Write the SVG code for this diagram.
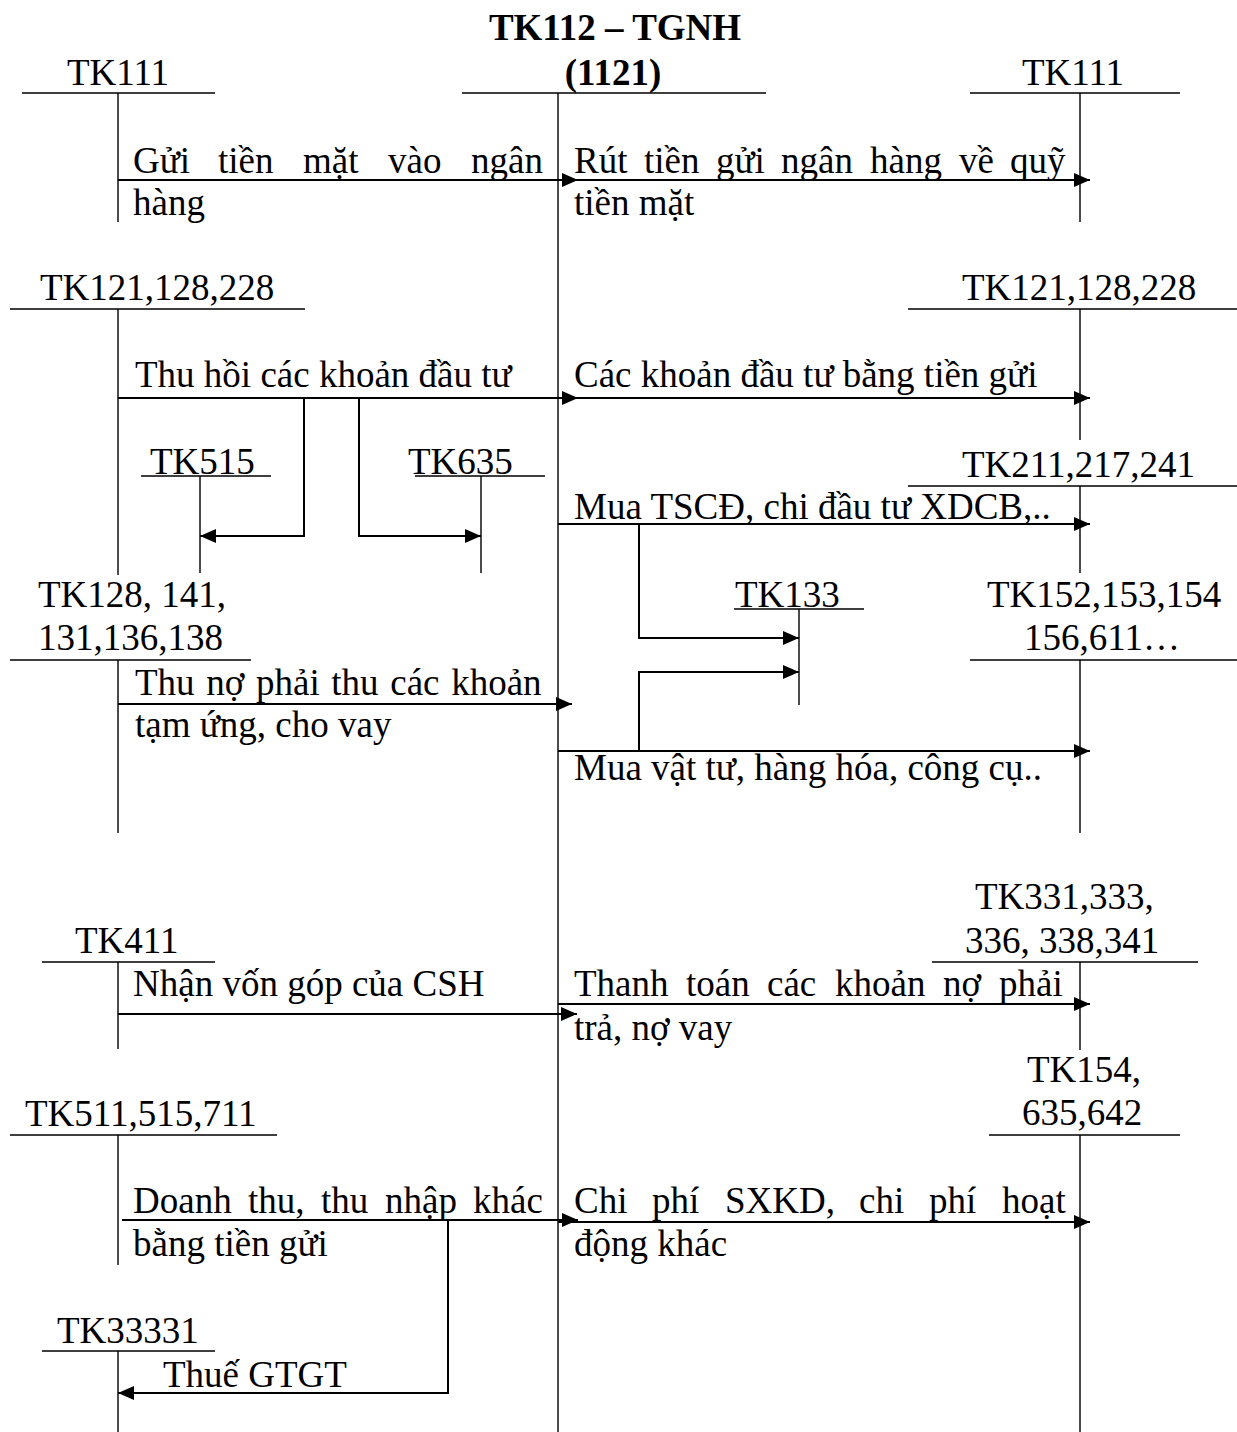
<svg xmlns="http://www.w3.org/2000/svg" width="1237" height="1432" viewBox="0 0 1237 1432">
<style>
text{font-family:"Liberation Serif","Times New Roman",serif;font-size:37px;fill:#000}
.b{font-weight:bold}
.t{stroke:#000;stroke-width:1.4;fill:none}
.a{stroke:#000;stroke-width:2;fill:none;marker-end:url(#ah)}
.l{stroke:#000;stroke-width:2;fill:none}
</style>
<defs>
<marker id="ah" viewBox="0 0 16 14" refX="16" refY="7" markerWidth="16" markerHeight="14" markerUnits="userSpaceOnUse" orient="auto"><path d="M0,0 L16,7 L0,14 z" fill="#000"/></marker>
</defs>
<rect width="1237" height="1432" fill="#fff"/>

<g id="tk112">
<text class="b" x="615" y="40" text-anchor="middle">TK112 – TGNH</text>
<text class="b" x="613" y="85" text-anchor="middle">(1121)</text>
<path class="t" d="M462,93 H766 M558,93 V1432"/>
</g>

<g id="tk111-left"><text x="67" y="85">TK111</text><path class="t" d="M22,93 H215 M118,93 V222"/></g>
<g id="tk111-right"><text x="1022" y="85">TK111</text><path class="t" d="M970,93 H1180 M1080,93 V222"/></g>
<g id="tk121-left"><text x="40" y="300">TK121,128,228</text><path class="t" d="M10,309 H305 M118,309 V575"/></g>
<g id="tk121-right"><text x="962" y="300">TK121,128,228</text><path class="t" d="M908,309 H1237 M1080,309 V440"/></g>
<g id="tk515"><text x="150" y="474">TK515</text><path class="t" d="M141,476 H271 M200,476 V573"/></g>
<g id="tk635"><text x="408" y="474">TK635</text><path class="t" d="M415,476 H545 M481,476 V573"/></g>
<g id="tk211-right"><text x="962" y="477">TK211,217,241</text><path class="t" d="M908,486 H1237 M1080,486 V573"/></g>
<g id="tk128-left"><text x="38" y="607">TK128, 141,</text><text x="38" y="650">131,136,138</text><path class="t" d="M10,660 H251 M118,660 V833"/></g>
<g id="tk133"><text x="735" y="607">TK133</text><path class="t" d="M734,609 H864 M799,609 V705"/></g>
<g id="tk152-right"><text x="987" y="607">TK152,153,154</text><text x="1024" y="650">156,611…</text><path class="t" d="M970,660 H1237 M1080,660 V833"/></g>
<g id="tk411"><text x="75" y="953">TK411</text><path class="t" d="M42,962 H215 M118,962 V1049"/></g>
<g id="tk331-right"><text x="975" y="909">TK331,333,</text><text x="965" y="953">336, 338,341</text><path class="t" d="M932,962 H1198 M1080,962 V1050"/></g>
<g id="tk154-right"><text x="1027" y="1082">TK154,</text><text x="1022" y="1125">635,642</text><path class="t" d="M989,1135 H1180 M1080,1135 V1432"/></g>
<g id="tk511-left"><text x="25" y="1126">TK511,515,711</text><path class="t" d="M10,1135 H277 M118,1135 V1265"/></g>
<g id="tk33331"><text x="57" y="1343">TK33331</text><path class="t" d="M42,1351 H215 M118,1351 V1432"/></g>

<g id="connectors">
<path class="a" d="M118,180 H578"/>
<path class="a" d="M558,180 H1090"/>
<path class="a" d="M118,398 H578"/>
<path class="a" d="M558,398 H1090"/>
<path class="a" d="M304,398 V536 H200"/>
<path class="a" d="M359,398 V536 H481"/>
<path class="a" d="M558,524 H1090"/>
<path class="a" d="M639,524 V638 H799"/>
<path class="a" d="M118,704 H572"/>
<path class="a" d="M558,751 H1090"/>
<path class="a" d="M639,751 V672 H799"/>
<path class="a" d="M118,1014 H577"/>
<path class="a" d="M558,1004 H1090"/>
<path class="a" d="M122,1220 H578"/>
<path class="a" d="M558,1222 H1090"/>
<path class="a" d="M448,1220 V1393 H118"/>
</g>

<g id="labels">
<text y="173"><tspan x="133">Gửi</tspan><tspan x="218">tiền</tspan><tspan x="303">mặt</tspan><tspan x="388">vào</tspan><tspan x="471">ngân</tspan></text>
<text x="133" y="215">hàng</text>
<text y="173"><tspan x="574">Rút</tspan><tspan x="644">tiền</tspan><tspan x="716">gửi</tspan><tspan x="781">ngân</tspan><tspan x="870">hàng</tspan><tspan x="959">về</tspan><tspan x="1010">quỹ</tspan></text>
<text x="574" y="215">tiền mặt</text>
<text x="135" y="387">Thu hồi các khoản đầu tư</text>
<text x="574" y="387">Các khoản đầu tư bằng tiền gửi</text>
<text x="574" y="519">Mua TSCĐ, chi đầu tư XDCB,..</text>
<text x="135" y="695" word-spacing="2.4">Thu nợ phải thu các khoản</text>
<text x="135" y="737">tạm ứng, cho vay</text>
<text x="574" y="780">Mua vật tư, hàng hóa, công cụ..</text>
<text x="133" y="996">Nhận vốn góp của CSH</text>
<text y="996"><tspan x="574">Thanh</tspan><tspan x="686">toán</tspan><tspan x="767">các</tspan><tspan x="835">khoản</tspan><tspan x="943">nợ</tspan><tspan x="999">phải</tspan></text>
<text x="574" y="1040">trả, nợ vay</text>
<text y="1213"><tspan x="133">Doanh</tspan><tspan x="248">thu,</tspan><tspan x="321">thu</tspan><tspan x="385">nhập</tspan><tspan x="473">khác</tspan></text>
<text x="133" y="1256">bằng tiền gửi</text>
<text y="1213"><tspan x="574">Chi</tspan><tspan x="652">phí</tspan><tspan x="725">SXKD,</tspan><tspan x="859">chi</tspan><tspan x="929">phí</tspan><tspan x="1002">hoạt</tspan></text>
<text x="574" y="1256">động khác</text>
<text x="163" y="1387">Thuế GTGT</text>
</g>
</svg>
